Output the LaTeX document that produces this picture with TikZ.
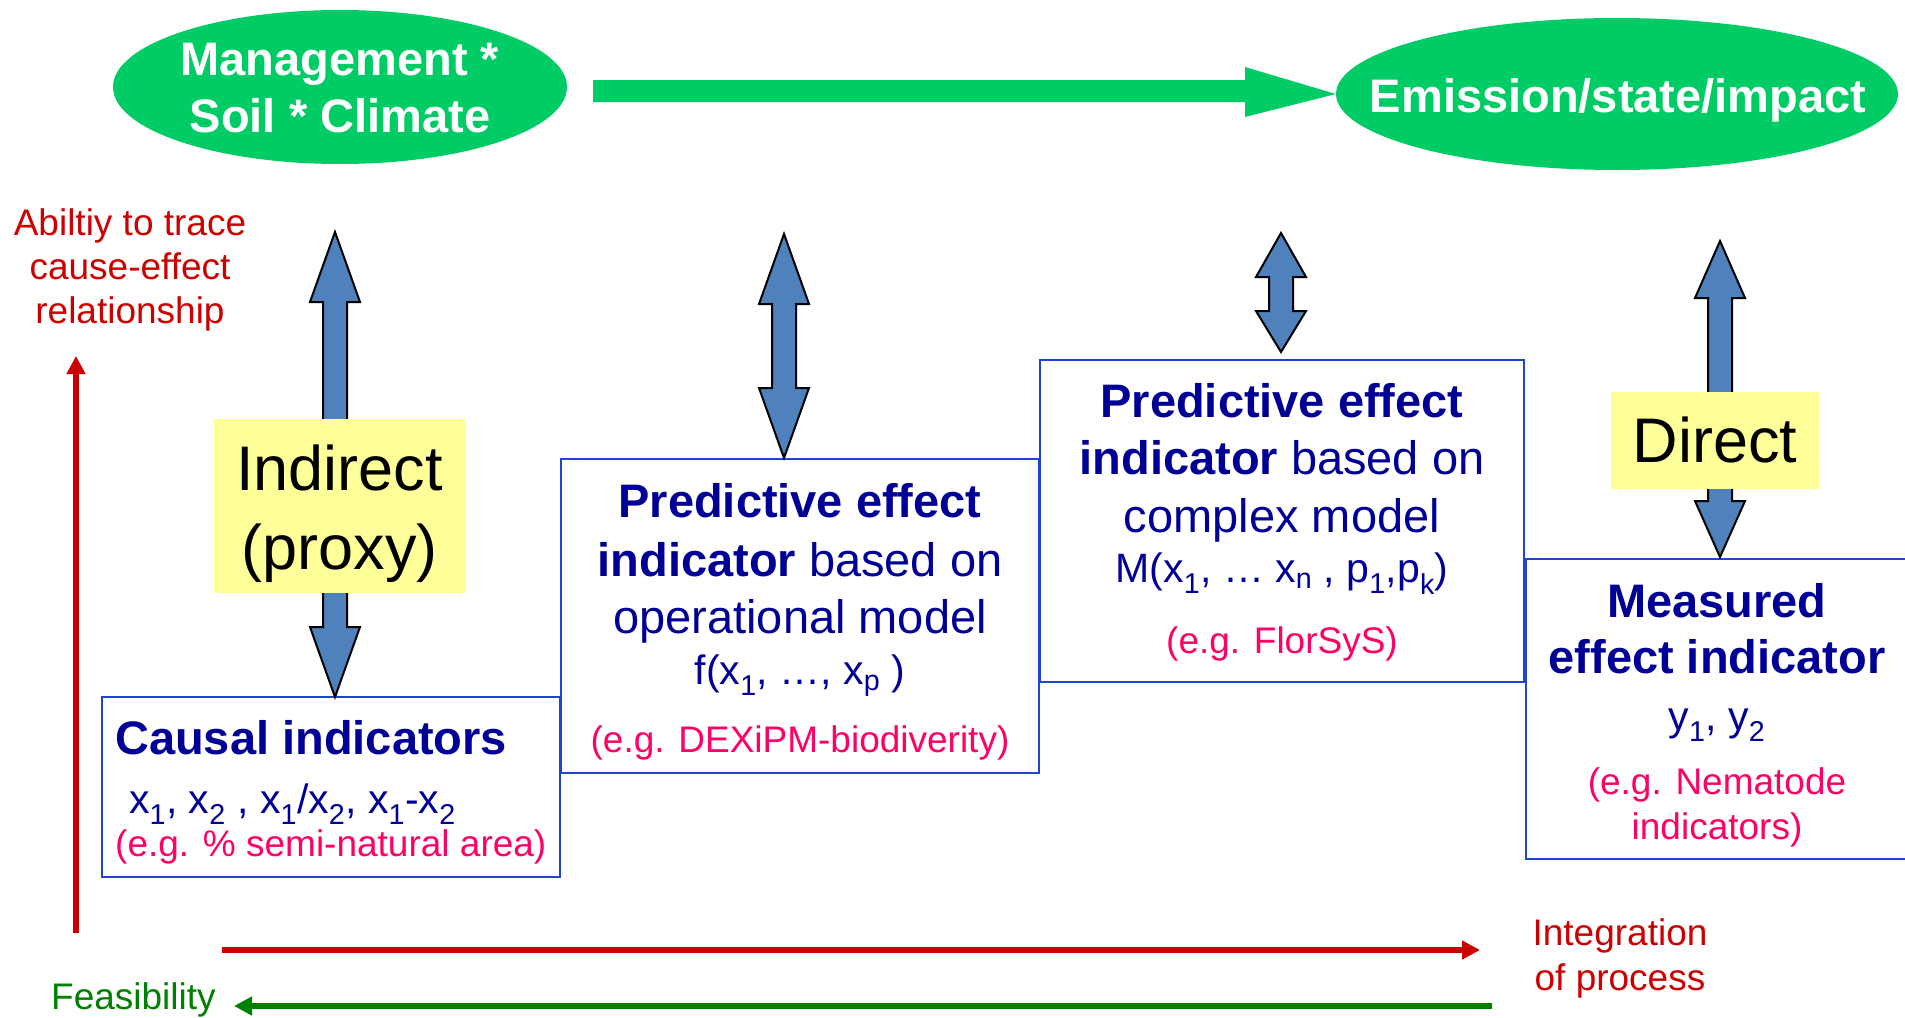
\documentclass[tikz,border=0pt]{standalone}
\usepackage{fontspec}
\setmainfont{Liberation Sans}
\usetikzlibrary{arrows.meta,shapes.geometric}
\definecolor{ellgreen}{RGB}{0,204,102}
\definecolor{navy}{RGB}{0,0,150}
\definecolor{pinkred}{RGB}{255,0,102}
\definecolor{darkred}{RGB}{204,0,0}
\definecolor{darkgreen}{RGB}{0,128,0}
\definecolor{boxblue}{RGB}{30,70,210}
\definecolor{arrowblue}{RGB}{79,129,189}
\definecolor{paleyellow}{RGB}{255,255,153}
\newcommand{\vdarrow}[5]{%
  \filldraw[bluearrow] (#1,#2) -- (#1+25,#3) -- (#1+12,#3) -- (#1+12,#4) -- (#1+25,#4)
    -- (#1,#5) -- (#1-25,#4) -- (#1-12,#4) -- (#1-12,#3) -- (#1-25,#3) -- cycle;}
\tikzset{
  bluearrow/.style={fill=arrowblue, draw=black, line width=2pt, line join=miter},
  ibox/.style={draw=boxblue, line width=2pt, fill=white, inner sep=0pt},
  ybox/.style={fill=paleyellow, inner sep=0pt, align=center, text=black},
  ell/.style={ellipse, fill=ellgreen, inner sep=0pt},
  elltext/.style={anchor=base, inner sep=0pt, text=white, font=\fontsize{47pt}{56pt}\selectfont\bfseries},
  btxt/.style={anchor=base, inner sep=0pt, text=navy, font=\fontsize{47pt}{56pt}\selectfont\bfseries},
  rtxt/.style={anchor=base, inner sep=0pt, text=navy, font=\fontsize{47pt}{56pt}\selectfont},
  ftxt/.style={anchor=base, inner sep=0pt, text=navy, font=\fontsize{41pt}{49pt}\selectfont},
  etxt/.style={anchor=base, inner sep=0pt, text=pinkred, font=\fontsize{37pt}{44pt}\selectfont},
  redtxt/.style={anchor=base, inner sep=0pt, text=darkred, font=\fontsize{37pt}{44pt}\selectfont},
  grntxt/.style={anchor=base, inner sep=0pt, text=darkgreen, font=\fontsize{37pt}{44pt}\selectfont},
  redarrow/.style={draw=darkred, line width=5.5pt, -{Triangle[length=18pt,width=18pt]}},
  grnarrow/.style={draw=darkgreen, line width=5.5pt, -{Triangle[length=18pt,width=18pt]}},
}
\begin{document}
\begin{tikzpicture}[x=1pt,y=-1pt]
\useasboundingbox (0,0) rectangle (1905,1017);
\fill[white] (0,0) rectangle (1905,1017);

% ellipses
\node[ell, minimum width=454pt, minimum height=154pt] (mgmt) at (340,87) {};
\node[ell, minimum width=562pt, minimum height=152pt] (emis) at (1617,94) {};
\node[elltext] (mg1) at (340,75) {Management *};
\node[elltext] (mg2) at (340,132) {Soil * Climate};
\node[elltext] (em1) at (1618,112) {Emission/state/impact};

% green block arrow between ellipses
\coordinate (gs) at (593,91);
\fill[ellgreen] (593,80) -- (1245,80) -- (1245,67) -- (emis.west) -- (1245,117) -- (1245,102) -- (593,102) -- cycle;

% indicator boxes
\node[ibox, minimum width=458pt, minimum height=180pt] (causal) at (331,787) {};
\node[ibox, minimum width=478pt, minimum height=314pt] (oper) at (800,616) {};
\node[ibox, minimum width=484pt, minimum height=322pt] (cplx) at (1282,521) {};
\node[ibox, minimum width=389pt, minimum height=300pt] (meas) at (1720.5,709) {};

% blue double arrows
\vdarrow{335}{232}{302}{627}{697}
\vdarrow{784}{234}{304}{388}{458}
\vdarrow{1281}{233}{277}{311}{352}
\vdarrow{1720}{241}{298}{501}{557}

% yellow labels
\node[ybox, minimum width=251pt, minimum height=174pt] (indir) at (339.5,506) {};
\node[anchor=base, inner sep=0pt, font=\fontsize{63pt}{78pt}\selectfont] (ind1) at (339.5,490) {Indirect};
\node[anchor=base, inner sep=0pt, font=\fontsize{63pt}{78pt}\selectfont] (ind2) at (339.5,569) {(proxy)};
\node[ybox, minimum width=208pt, minimum height=97pt] (direct) at (1715,440.5) {};
\node[anchor=base, inner sep=0pt, font=\fontsize{63pt}{78pt}\selectfont] (dir1) at (1715,462) {Direct};

% causal box text
\node[btxt, anchor=base west] (c1) at (115,754) {Causal indicators};
\node[ftxt, anchor=base west] (c2) at (129,813) {x\textsubscript{1}, x\textsubscript{2} , x\textsubscript{1}/x\textsubscript{2}, x\textsubscript{1}-x\textsubscript{2}};
\node[etxt, anchor=base west] (c3) at (115,856) {(e.g. \% semi-natural area)};

% operational box text
\node[btxt] (o1) at (800,517) {Predictive effect};
\node[rtxt] (o2) at (800,576) {\textbf{indicator} based on};
\node[rtxt] (o3) at (800,633) {operational model};
\node[ftxt] (o4) at (800,684) {f(x\textsubscript{1}, …, x\textsubscript{p} )};
\node[etxt] (o5) at (800,752) {(e.g. DEXiPM-biodiverity)};

% complex box text
\node[btxt] (k1) at (1282,417) {Predictive effect};
\node[rtxt] (k2) at (1282,474) {\textbf{indicator} based on};
\node[rtxt] (k3) at (1282,532) {complex model};
\node[ftxt] (k4) at (1282,582) {M(x\textsubscript{1}, … x\textsubscript{n} , p\textsubscript{1},p\textsubscript{k})};
\node[etxt] (k5) at (1282,653) {(e.g. FlorSyS)};

% measured box text
\node[btxt] (m1) at (1717,617) {Measured};
\node[btxt] (m2) at (1717,673) {effect indicator};
\node[ftxt] (m3) at (1717,730) {y\textsubscript{1}, y\textsubscript{2}};
\node[etxt] (m4) at (1717,794) {(e.g. Nematode};
\node[etxt] (m5) at (1717,839) {indicators)};

% axis labels
\node[redtxt] (a1) at (130,235) {Abiltiy to trace};
\node[redtxt] (a2) at (130,279) {cause-effect};
\node[redtxt] (a3) at (130,323) {relationship};
\node[redtxt] (i1) at (1620,945) {Integration};
\node[redtxt] (i2) at (1620,990) {of process};
\node[grntxt, anchor=base west] (feas) at (51,1009) {Feasibility};

% axis arrows
\coordinate (vbot) at (76,933);
\coordinate (vtop) at (76,356);
\draw[redarrow] (vbot) -- (vtop);
\coordinate (hstart) at (222,950);
\coordinate (hend) at (1480,950);
\draw[redarrow] (hstart) -- (hend);
\coordinate (gstart) at (1492,1006);
\coordinate (gend) at (234,1006);
\draw[grnarrow] (gstart) -- (gend);
\end{tikzpicture}
\end{document}
